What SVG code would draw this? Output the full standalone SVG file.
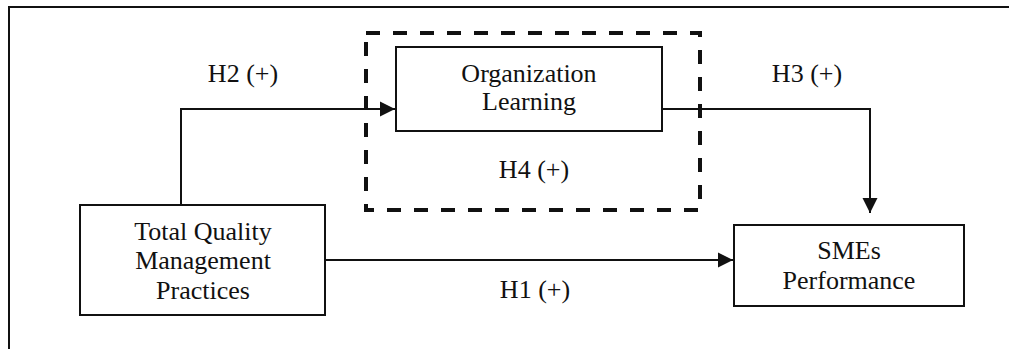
<svg xmlns="http://www.w3.org/2000/svg" width="1010" height="349" viewBox="0 0 1010 349">
<style>
text{font-family:"Liberation Serif","Times New Roman",serif;font-size:26px;fill:#111;text-anchor:middle}
.box{fill:#fff;stroke:#111;stroke-width:2}
.conn{fill:none;stroke:#111;stroke-width:2}
.dash{fill:none;stroke:#111;stroke-width:4;stroke-dasharray:14 13}
</style>
<defs>
<marker id="arr" markerUnits="userSpaceOnUse" markerWidth="16" markerHeight="16" viewBox="0 0 16 16" refX="15" refY="8" orient="auto">
<path d="M0,0.5 L15,8 L0,15.5 Z" fill="#111"/>
</marker>
</defs>
<rect width="1010" height="349" fill="#fff"/>
<path d="M9,349 V7 H1009" fill="none" stroke="#111" stroke-width="2"/>
<g id="mediator-frame">
<rect class="dash" x="366" y="33" width="334" height="177"/>
<text x="534" y="178">H4 (+)</text>
</g>
<g id="connectors">
<path class="conn" d="M181,205 V109 H395" marker-end="url(#arr)"/>
<path class="conn" d="M662,109 H870 V213" marker-end="url(#arr)"/>
<path class="conn" d="M325,260 H733" marker-end="url(#arr)"/>
<text x="243" y="82">H2 (+)</text>
<text x="807" y="82">H3 (+)</text>
<text x="535" y="298">H1 (+)</text>
</g>
<g id="org-learning">
<rect class="box" x="396" y="47" width="266" height="84"/>
<text x="529" y="82">Organization</text>
<text x="529" y="110">Learning</text>
</g>
<g id="tqm">
<rect class="box" x="80" y="205" width="245" height="110"/>
<text x="203" y="240">Total Quality</text>
<text x="203" y="269">Management</text>
<text x="203" y="299">Practices</text>
</g>
<g id="smes">
<rect class="box" x="734" y="225" width="230" height="81"/>
<text x="849" y="259">SMEs</text>
<text x="849" y="289">Performance</text>
</g>
</svg>
